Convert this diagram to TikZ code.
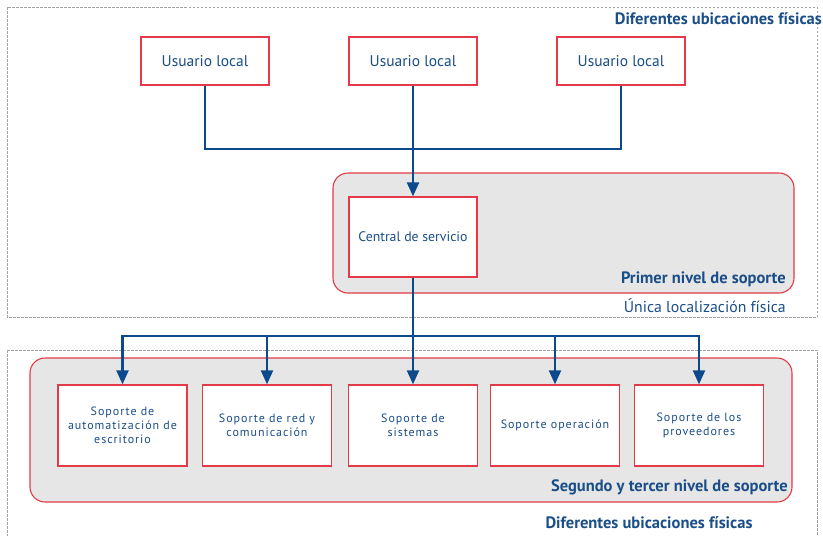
\documentclass[tikz,border=0pt]{standalone}
\usepackage{fontspec}
\setmainfont{PT Sans}
\newfontfamily\spacedsans[LetterSpace=8]{PT Sans}
\usetikzlibrary{arrows.meta}
\definecolor{inkblue}{HTML}{1A4E88}
\definecolor{linkblue}{HTML}{0D4A8C}
\definecolor{boxred}{HTML}{E23A46}
\definecolor{panelgrey}{HTML}{E6E6E6}
\definecolor{zonegrey}{HTML}{A3A3A3}
\tikzset{
  unitbox/.style={draw=boxred, line width=1.3pt, fill=white, minimum width=128pt,
    text=inkblue, align=center, inner sep=2pt},
  userbox/.style={unitbox, minimum height=48pt, font=\fontsize{15.5}{17}\selectfont},
  centralbox/.style={unitbox, minimum height=80pt, font=\fontsize{13.8}{15}\selectfont},
  teambox/.style={unitbox, minimum width=129pt, minimum height=81pt,
    font=\spacedsans\fontsize{12}{14}\selectfont},
  panel/.style={draw=boxred, line width=1.1pt, fill=panelgrey, rounded corners=15pt},
  zone/.style={draw=zonegrey, line width=0.9pt, dash pattern=on 2.5pt off 1.5pt},
  link/.style={draw=linkblue, line width=2.2pt},
  flow/.style={link, -{Triangle[width=12pt,length=14pt]}},
  heading/.style={text=inkblue, font=\bfseries\fontsize{16.5}{18}\selectfont, inner sep=0pt},
  note/.style={text=inkblue, font=\fontsize{15.8}{17}\selectfont, inner sep=0pt}
}
\begin{document}
\begin{tikzpicture}[x=1pt, y=-1pt]
  \useasboundingbox (0,0) rectangle (823,536);

  % physical location zones
  \draw[zone] (7,7) rectangle (817,317);
  \draw[zone] (7,350) -- (817,350) -- (817,540);
  \draw[zone] (7,350) -- (7,540);

  % support level panels
  \draw[panel] (333,173) rectangle (794,293);
  \draw[panel] (30,358) rectangle (792,502);

  % local users
  \node[userbox] (u1) at (205,61) {Usuario local};
  \node[userbox] (u2) at (413,61) {Usuario local};
  \node[userbox] (u3) at (621,61) {Usuario local};

  % first level
  \node[centralbox] (central) at (413,237) {Central de servicio};

  % second and third level teams
  \node[teambox] (t1) at (122.5,425.5) {Soporte de\\automatización de\\escritorio};
  \node[teambox] (t2) at (267,425.5) {Soporte de red y\\comunicación};
  \node[teambox] (t3) at (413,425.5) {Soporte de\\sistemas};
  \node[teambox] (t4) at (555,425.5) {Soporte operación};
  \node[teambox] (t5) at (699,425.5) {Soporte de los\\proveedores};

  % labels
  \node[heading, anchor=east] (topzone) at (822,19) {Diferentes ubicaciones físicas};
  \node[heading, anchor=east] (lvl1) at (786,279) {Primer nivel de soporte};
  \node[note, anchor=east] (single) at (786,306) {Única localización física};
  \node[heading, anchor=east] (lvl23) at (788,487) {Segundo y tercer nivel de soporte};
  \node[heading] (botzone) at (649,523) {Diferentes ubicaciones físicas};

  % connectors
  \coordinate (join) at (413,149);
  \coordinate (split) at (413,336);
  \draw[link] (u1.south) |- (join);
  \draw[link] (u3.south) |- (join);
  \draw[flow] (u2.south) -- (central.north);
  \draw[flow] (central.south) -- (t3.north);
  \draw[flow] (split) -| (t1.north);
  \draw[flow] (split) -| (t2.north);
  \draw[flow] (split) -| (t4.north);
  \draw[flow] (split) -| (t5.north);
\end{tikzpicture}
\end{document}
